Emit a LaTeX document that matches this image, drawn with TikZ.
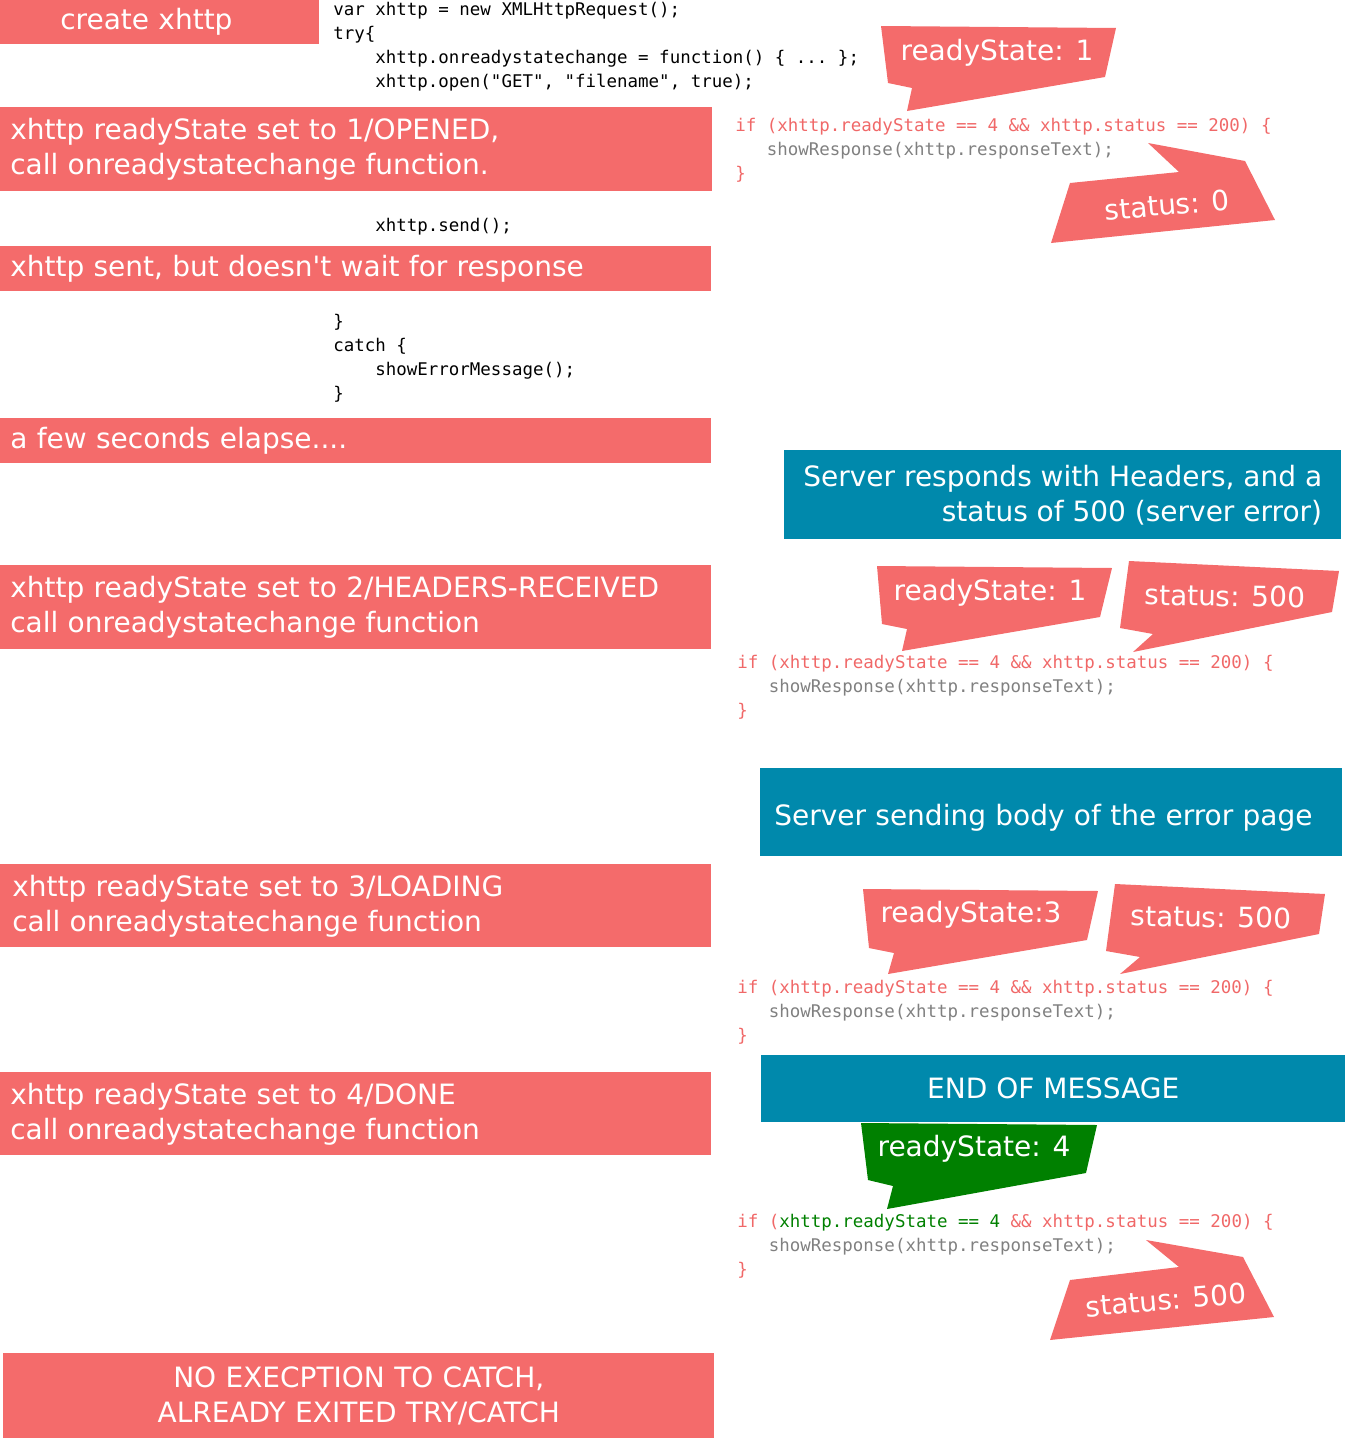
\documentclass[tikz,border=0pt]{standalone}
\usepackage{fontspec}
\setmainfont{DejaVu Sans}[Ligatures=TeXOff]
\setmonofont{DejaVu Sans Mono}
\usetikzlibrary{positioning}
\usepackage{xcolor}
\definecolor{xred}{HTML}{F46B6B}
\definecolor{xteal}{HTML}{0089AC}
\definecolor{xgreen}{HTML}{008000}
\definecolor{codered}{HTML}{F06868}
\definecolor{codegray}{HTML}{808080}
\newcommand{\boxfs}{\fontsize{21}{26.25}\selectfont}
\newcommand{\codefs}{\fontsize{13.1}{18}\selectfont\ttfamily}
\newcommand{\bubfs}{\fontsize{21}{24}\selectfont}

\begin{document}
\begin{tikzpicture}[x=0.75pt, y=-0.75pt,
    box/.style={fill=xred, text=white, font=\boxfs, inner xsep=7.5pt, inner ysep=0pt, anchor=north west, align=left},
    infobox/.style={fill=xteal, text=white, font=\boxfs, inner ysep=0pt, anchor=north west},
    code/.style={font=\codefs, anchor=base west, inner sep=0pt, align=left},
    bubble/.style={text=white, font=\bubfs, inner sep=0pt}]
    \useasboundingbox (0,0) rectangle (1345,1438);
    % steps on the left
    \node[box, inner xsep=45pt, text width=149.25pt, minimum height=33pt] (create) at (0,0) {create xhttp};
    \node[box, text width=519pt, minimum height=63pt] (opened) at (0,107)
      {xhttp readyState set to 1/OPENED,\\call onreadystatechange function.};
    \node[box, text width=518.25pt, minimum height=33.75pt] (sent) at (0,246)
      {xhttp sent, but doesn't wait for response};
    \node[box, text width=518.25pt, minimum height=33.75pt] (elapse) at (0,418)
      {a few seconds elapse....};
    \node[box, text width=518.25pt, minimum height=63pt] (headers) at (0,565)
      {xhttp readyState set to 2/HEADERS-RECEIVED\\call onreadystatechange function};
    \node[box, inner xsep=9pt, text width=515.25pt, minimum height=62.25pt] (loading) at (0,864)
      {xhttp readyState set to 3/LOADING\\call onreadystatechange function};
    \node[box, text width=518.25pt, minimum height=62.25pt] (done) at (0,1072)
      {xhttp readyState set to 4/DONE\\call onreadystatechange function};
    \node[box, align=center, text width=518.25pt, minimum height=63.75pt] (noexc) at (3,1353)
      {NO EXECPTION TO CATCH,\\ALREADY EXITED TRY/CATCH};
    % server side
    \node[infobox, align=right, minimum width=417.75pt, minimum height=66.75pt] (responds) at (784,450)
      {Server responds with Headers, and a\\status of 500 (server error)};
    \node[infobox, align=left, inner xsep=10.5pt, text width=415.5pt, text height=24pt, minimum height=66pt] (body) at (760,768)
      {Server sending body of the error page};
    \node[infobox, align=center, minimum width=438pt, minimum height=50.25pt] (eom) at (761,1055)
      {END OF MESSAGE};
    % code
    \node[code] (trycode) at (333,88)
      {var xhttp = new XMLHttpRequest();\\try\{\\\hphantom{xxxx}xhttp.onreadystatechange = function() \{ ... \};\\\hphantom{xxxx}xhttp.open("GET", "filename", true);};
    \node[code] (sendcode) at (375,231) {xhttp.send();};
    \node[code] (catchcode) at (333,399)
      {\}\\catch \{\\\hphantom{xxxx}showErrorMessage();\\\}};
    \node[code, text=codered] (checka) at (735,179)
      {if (xhttp.readyState == 4 \&\& xhttp.status == 200) \{\\\hphantom{xxx}\textcolor{codegray}{showResponse(xhttp.responseText);}\\\}};
    \node[code, text=codered] (checkb) at (737,716)
      {if (xhttp.readyState == 4 \&\& xhttp.status == 200) \{\\\hphantom{xxx}\textcolor{codegray}{showResponse(xhttp.responseText);}\\\}};
    \node[code, text=codered] (checkc) at (737,1041)
      {if (xhttp.readyState == 4 \&\& xhttp.status == 200) \{\\\hphantom{xxx}\textcolor{codegray}{showResponse(xhttp.responseText);}\\\}};
    \node[code, text=codered] (checkd) at (737,1275)
      {if (\textcolor{xgreen}{xhttp.readyState == 4} \&\& xhttp.status == 200) \{\\\hphantom{xxx}\textcolor{codegray}{showResponse(xhttp.responseText);}\\\}};
    % speech bubbles
    \fill[xred] (881,26) -- (1116,28) -- (1105,77) -- (907,111) -- (912,88) -- (888,83) -- cycle;
    \node[bubble] (statea) at (997,53) {readyState: 1};
    \fill[xred] (1148,143) -- (1245,161) -- (1275,220) -- (1051,243) -- (1070,183) -- (1179,172) -- cycle;
    \node[bubble, rotate=5] (sta) at (1167,205) {status: 0};
    \fill[xred] (877,566) -- (1112,568) -- (1100,617) -- (902,651) -- (907,629) -- (882,624) -- cycle;
    \node[bubble] (stateb) at (990,593) {readyState: 1};
    \fill[xred] (1129,561) -- (1339,571) -- (1332,612) -- (1133,652) -- (1153,634) -- (1120,628) -- cycle;
    \node[bubble, rotate=-1] (stb) at (1225,596) {status: 500};
    \fill[xred] (863,889) -- (1098,891) -- (1087,940) -- (888,974) -- (894,953) -- (869,948) -- cycle;
    \node[bubble] (statec) at (971,915) {readyState:3};
    \fill[xred] (1115,884) -- (1325,894) -- (1319,934) -- (1120,974) -- (1140,957) -- (1106,951) -- cycle;
    \node[bubble, rotate=-1] (stc) at (1211,917) {status: 500};
    \fill[xgreen] (861,1123) -- (1097,1125) -- (1086,1173) -- (887,1209) -- (893,1186) -- (868,1180) -- cycle;
    \node[bubble] (stated) at (974,1149) {readyState: 4};
    \fill[xred] (1146,1240) -- (1243,1257) -- (1274,1317) -- (1050,1340) -- (1070,1280) -- (1179,1267) -- cycle;
    \node[bubble, rotate=5] (std) at (1166,1300) {status: 500};
\end{tikzpicture}
\end{document}
